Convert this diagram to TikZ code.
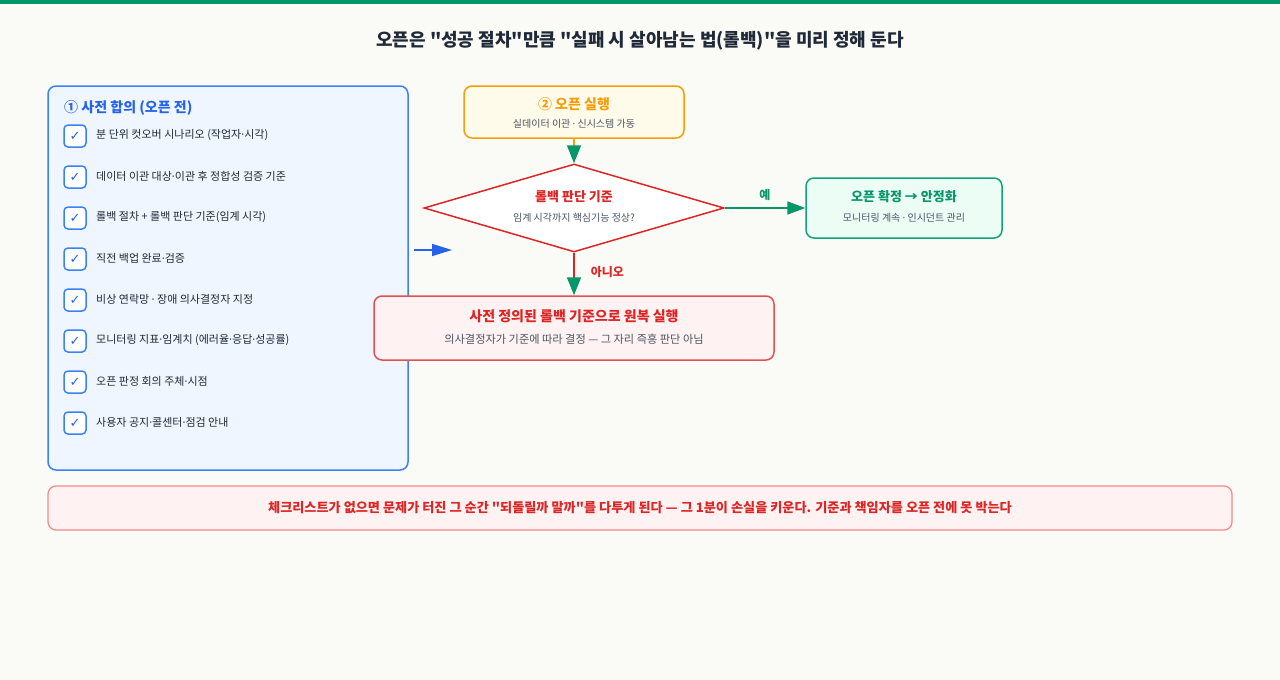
\documentclass[tikz,border=0pt]{standalone}
\usepackage{fontspec}
\setmainfont{Noto Sans CJK KR}[Ligatures=TeXOff]
\newfontfamily\symfont{DejaVu Sans}
\newfontfamily\latf{Noto Sans}[Ligatures=TeXOff]
\newcommand\md{{\latf ·}}
\usetikzlibrary{arrows.meta,shapes.geometric}
\definecolor{bgc}{HTML}{FAFAF6}
\definecolor{grn}{HTML}{059669}
\definecolor{grnb}{HTML}{10A37A}
\definecolor{grnf}{HTML}{ECFDF5}
\definecolor{blu}{HTML}{3B82F6}
\definecolor{blut}{HTML}{2563EB}
\definecolor{bluf}{HTML}{EFF6FF}
\definecolor{org}{HTML}{F59E0B}
\definecolor{orgf}{HTML}{FFFBEB}
\definecolor{red}{HTML}{DC2626}
\definecolor{redb}{HTML}{E05252}
\definecolor{redl}{HTML}{F08A8A}
\definecolor{redf}{HTML}{FEF2F2}
\definecolor{ink}{HTML}{1F2937}
\definecolor{gry}{HTML}{4B5563}
\tikzset{
  box/.style={draw, rounded corners=8pt, line width=1.5pt, inner sep=0pt},
  chk/.style={draw=blu, fill=white, rounded corners=4pt, line width=1.5pt, minimum width=22pt, minimum height=22pt, inner sep=0pt, text=blut, font=\symfont\fontsize{13}{13}\selectfont},
  item/.style={anchor=west, inner sep=0pt, text=ink, font=\fontsize{11}{13}\selectfont},
  ttl/.style={inner sep=0pt, font=\bfseries\fontsize{14}{16}\selectfont},
  sub/.style={inner sep=0pt, text=gry, font=\fontsize{10}{12}\selectfont},
  lbl/.style={inner sep=0pt, font=\bfseries\fontsize{12}{14}\selectfont},
}
\begin{document}
\begin{tikzpicture}[x=1pt,y=-1pt]
\useasboundingbox (0,0) rectangle (1280,680);
\fill[bgc] (0,0) rectangle (1280,680);
\fill[grn] (0,0) rectangle (1280,4);
\node[inner sep=0pt, text=ink, font=\bfseries\fontsize{18}{22}\selectfont] (title) at (640,41) {오픈은 "성공 절차"만큼 "실패 시 살아남는 법(롤백)"을 미리 정해 둔다};
% left checklist box
\node[box, draw=blu, fill=bluf, minimum width=360pt, minimum height=384pt] (prep) at (228,278) {};
\node[anchor=west, inner sep=0pt, text=blut, font=\bfseries\fontsize{14}{16}\selectfont] (preph) at (64,108) {① 사전 합의 (오픈 전)};
\foreach \i/\t in {1/{분 단위 컷오버 시나리오 (작업자\md 시각)},2/{데이터 이관 대상\md 이관 후 정합성 검증 기준},3/{롤백 절차 + 롤백 판단 기준(임계 시각)},4/{직전 백업 완료\md 검증},5/{비상 연락망 \md{} 장애 의사결정자 지정},6/{모니터링 지표\md 임계치 (에러율\md 응답\md 성공률)},7/{오픈 판정 회의 주체\md 시점},8/{사용자 공지\md 콜센터\md 점검 안내}}{
  \node[chk] (chk\i) at (75,{136+41*(\i-1)}) {✓};
  \node[item] (txt\i) at (96,{135+41*(\i-1)}) {\t};
}
\coordinate (ba) at (414,250);
\coordinate (bb) at (452,250);
\draw[blut, line width=1.6pt, -{Triangle[length=20pt,width=12pt]}] (ba) -- (bb);
% open box
\node[box, draw=org, fill=orgf, minimum width=220pt, minimum height=52pt] (open) at (574,112) {};
\node[ttl, text=org] (opent) at (574,104) {② 오픈 실행};
\node[sub] (opens) at (574,124) {실데이터 이관 \md{} 신시스템 가동};
% diamond
\node[diamond, draw=red, fill=white, line width=1.5pt, minimum width=300pt, minimum height=88pt, inner sep=0pt, aspect=3.4] (dec) at (574,208) {};
\node[inner sep=0pt, text=red, font=\bfseries\fontsize{13}{15}\selectfont] (dect) at (574,197) {롤백 판단 기준};
\node[sub] (decs) at (574,218) {임계 시각까지 핵심기능 정상?};
% green box
\node[box, draw=grnb, fill=grnf, minimum width=196pt, minimum height=60pt] (ok) at (904,208) {};
\node[inner sep=0pt, text=grn, font=\bfseries\fontsize{13}{15}\selectfont] (okt) at (904,197) {오픈 확정 → 안정화};
\node[sub] (oks) at (904,218) {모니터링 계속 \md{} 인시던트 관리};
% red box
\node[box, draw=redb, fill=redf, minimum width=400pt, minimum height=64pt] (rb) at (574,328) {};
\node[ttl, text=red] (rbt) at (574,316) {사전 정의된 롤백 기준으로 원복 실행};
\node[sub, font=\fontsize{11.2}{12}\selectfont] (rbs) at (574,339) {의사결정자가 기준에 따라 결정 — 그 자리 즉흥 판단 아님};
% arrows
\draw[org, line width=1.6pt, -{Triangle[length=18pt,width=14pt,color=grn,fill=grn]}] (open.south) -- (dec.north);
\draw[grn, line width=1.6pt, -{Triangle[length=18pt,width=13pt]}] (dec.east) -- node[lbl, text=grn, above=7pt] {예} (ok.west);
\draw[red, line width=1.6pt, -{Triangle[length=18pt,width=14pt,color=grn,fill=grn]}] (dec.south) -- node[lbl, text=red, right=16pt, pos=0.45] {아니오} (rb.north);
% bottom note
\node[box, draw=redl, fill=redf, minimum width=1184pt, minimum height=44pt, line width=1.2pt] (note) at (640,508) {};
\node[inner sep=0pt, text=red, font=\bfseries\fontsize{13.15}{15}\selectfont] (notet) at (640,508) {체크리스트가 없으면 문제가 터진 그 순간 "되돌릴까 말까"를 다투게 된다 — 그 1분이 손실을 키운다. 기준과 책임자를 오픈 전에 못 박는다};
\end{tikzpicture}
\end{document}
